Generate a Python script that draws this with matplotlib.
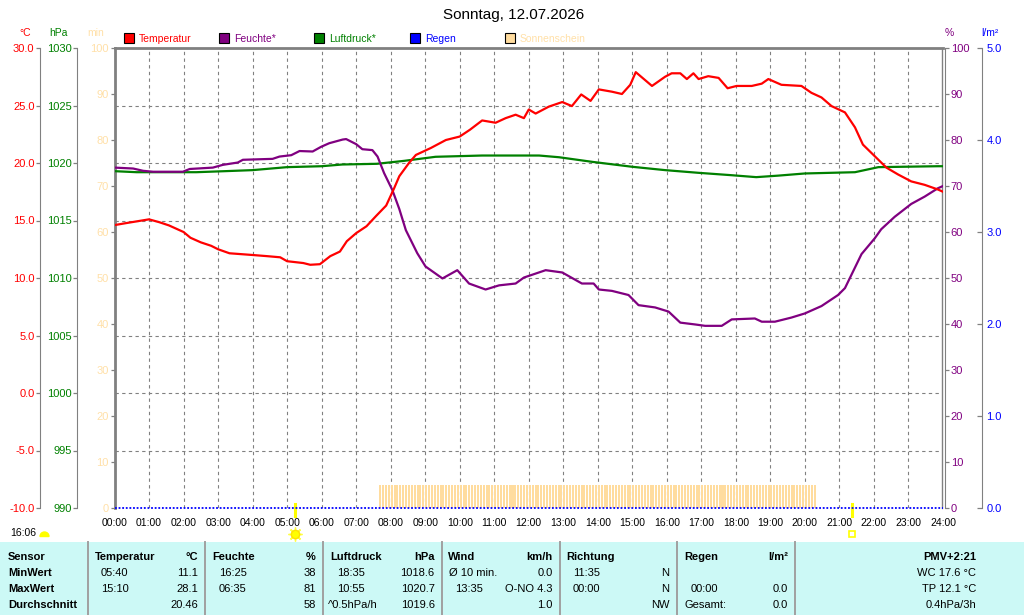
import numpy as np
import matplotlib
matplotlib.use("Agg")
import matplotlib.pyplot as plt
import matplotlib.transforms as mtransforms
from matplotlib.patches import Rectangle, Wedge
from matplotlib.ticker import FormatStrFormatter

plt.rcParams["font.family"] = ["Liberation Sans", "DejaVu Sans"]

# ---- data ----
title = "Sonntag, 12.07.2026"

temp_hours = [0.0, 0.33, 1.0, 1.3, 1.58, 2.0, 2.2, 2.5, 2.8, 3.0, 3.33, 4.0, 4.42, 4.8,
              5.0, 5.47, 5.67, 5.95, 6.25, 6.53, 6.73, 7.0, 7.3, 7.58, 7.87, 8.1, 8.25,
              8.53, 8.73, 9.16, 9.6, 10.0, 10.3, 10.65, 11.04, 11.33, 11.62, 11.86, 12.0,
              12.2, 12.58, 12.97, 13.25, 13.52, 13.79, 14.03, 14.41, 14.7, 14.94, 15.1,
              15.57, 15.95, 16.14, 16.39, 16.58, 16.77, 16.92, 17.2, 17.5, 17.76, 18.02,
              18.46, 18.75, 18.94, 19.32, 19.9, 20.19, 20.48, 20.77, 21.16, 21.45, 21.68,
              22.02, 22.36, 22.7, 23.08, 23.47, 23.85, 24.0]
temp_c = [14.6, 14.77, 15.1, 14.85, 14.57, 14.0, 13.5, 13.1, 12.8, 12.5, 12.15, 12.0, 11.9,
          11.8, 11.46, 11.3, 11.15, 11.2, 11.9, 12.3, 13.2, 13.9, 14.5, 15.4, 16.3, 17.8,
          18.85, 20.0, 20.7, 21.3, 22.0, 22.3, 22.9, 23.7, 23.5, 23.9, 24.2, 23.9, 24.65,
          24.3, 24.9, 25.3, 24.95, 25.96, 25.4, 26.4, 26.2, 26.0, 26.8, 27.9, 26.7, 27.5,
          27.8, 27.8, 27.3, 27.8, 27.3, 27.55, 27.4, 26.5, 26.7, 26.7, 26.9, 27.3, 26.8,
          26.7, 26.1, 25.7, 24.95, 24.4, 23.1, 21.6, 20.6, 19.6, 19.0, 18.4, 18.1, 17.7,
          17.5]

hum_hours = [0.0, 0.54, 0.83, 1.12, 1.98, 2.18, 2.85, 3.14, 3.57, 3.72, 4.58, 4.78, 5.12,
             5.36, 5.74, 5.98, 6.22, 6.61, 6.71, 7.0, 7.18, 7.47, 7.62, 7.81, 8.05, 8.25,
             8.44, 8.77, 9.01, 9.5, 9.93, 10.27, 10.75, 11.14, 11.62, 11.86, 12.49, 12.97,
             13.54, 13.88, 14.03, 14.41, 14.89, 15.18, 15.66, 16.05, 16.39, 16.82, 17.11,
             17.59, 17.88, 18.55, 18.75, 19.13, 19.61, 20.0, 20.48, 20.96, 21.16, 21.64,
             22.02, 22.21, 22.6, 23.08, 23.47, 23.85, 24.0]
hum_pct = [74.0, 73.8, 73.3, 73.1, 73.1, 73.7, 74.0, 74.6, 75.1, 75.7, 75.9, 76.4, 76.7,
           77.6, 77.5, 78.5, 79.3, 80.1, 80.2, 79.1, 78.0, 77.8, 76.4, 72.8, 69.1, 65.0,
           60.4, 55.4, 52.5, 49.9, 51.7, 48.8, 47.5, 48.4, 48.8, 50.1, 51.7, 51.2, 48.8,
           48.8, 47.5, 47.2, 46.3, 44.1, 43.6, 42.7, 40.3, 39.9, 39.6, 39.6, 41.0, 41.2,
           40.5, 40.5, 41.4, 42.3, 43.9, 46.3, 47.8, 55.2, 58.6, 60.6, 63.3, 66.1, 67.7,
           69.5, 70.0]

pres_hours = [0.0, 0.64, 2.37, 3.2, 4.0, 5.0, 6.0, 6.6, 7.6, 8.4, 9.3, 10.65, 12.3, 12.88,
              13.84, 15.0, 15.95, 16.9, 17.87, 18.59, 19.22, 20.0, 21.45, 22.13, 23.85, 24.0]
pres_hpa = [1019.29, 1019.2, 1019.2, 1019.29, 1019.38, 1019.64, 1019.72, 1019.87, 1019.93,
            1020.19, 1020.54, 1020.65, 1020.65, 1020.5, 1020.1, 1019.67, 1019.38, 1019.15,
            1018.94, 1018.77, 1018.9, 1019.09, 1019.2, 1019.64, 1019.72, 1019.72]

rain_hours = [0.0, 24.0]
rain_mm = [0.0, 0.0]

# sunshine: 5-minute slots with full sun between these times
sun_first_slot = "07:40"
sun_last_slot = "20:15"
sun_slot_minutes = 5

sunrise = 5.22
sunset = 21.35
day_length = "16:06"

hour_labels = [f"{h:02d}:00" for h in range(25)]
temp_ticks = [-10, -5, 0, 5, 10, 15, 20, 25, 30]
pres_ticks = [990, 995, 1000, 1005, 1010, 1015, 1020, 1025, 1030]
pct_ticks = [0, 10, 20, 30, 40, 50, 60, 70, 80, 90, 100]
rain_ticks = [0, 1, 2, 3, 4, 5]

legend_names = ["Temperatur", "Feuchte*", "Luftdruck*", "Regen", "Sonnenschein"]

table_header = ["Sensor", "Temperatur", "°C", "Feuchte", "%", "Luftdruck", "hPa", "Wind",
                "km/h", "Richtung", "", "Regen", "l/m²", "PMV+2:21"]
table_rows = [
    ["MinWert", "05:40", "11.1", "16:25", "38", "18:35", "1018.6", "Ø 10 min.", "0.0",
     "11:35", "N", "", "", "WC 17.6 °C"],
    ["MaxWert", "15:10", "28.1", "06:35", "81", "10:55", "1020.7", "13:35", "O-NO 4.3",
     "00:00", "N", "00:00", "0.0", "TP 12.1 °C"],
    ["Durchschnitt", "", "20.46", "", "58", "^0.5hPa/h", "1019.6", "", "1.0",
     "", "NW", "Gesamt:", "0.0", "0.4hPa/3h"],
]

# ---- styling / layout ----
RED = "#ff0000"
PURPLE = "#800080"
GREEN = "#008000"
BLUE = "#0000ff"
SUN = "#ffdc9e"
SUNTXT = "#ffe0a8"
GRAY = "#808080"
TABLE_BG = "#ccf9f6"

W, H = 1024, 615
L, R, T, B = 114.5, 943.0, 48.0, 508.0


def fx(px):
    return (px - L) / (R - L)


fig = plt.figure(figsize=(W / 100, H / 100), dpi=100)

ov = fig.add_axes([0, 0, 1, 1])
ov.set_xlim(0, W)
ov.set_ylim(H, 0)
ov.axis("off")

ax = fig.add_axes([L / W, 1 - B / H, (R - L) / W, (B - T) / H])
ax_m = ax.twinx()
ax_p = ax.twinx()
ax_h = ax.twinx()
ax_r = ax.twinx()
ax_t = ax.twinx()

for a in (ax, ax_m, ax_p, ax_h, ax_r, ax_t):
    for s in a.spines.values():
        s.set_visible(False)

ax.set_xlim(0, 24)
ax.set_xticks(range(25))
ax.set_xticklabels(hour_labels)
ax.tick_params(axis="x", length=0, pad=7, labelsize=7.5)

# temperature axis (left, at x=40)
ax.set_ylim(-10, 30)
ax.set_yticks(temp_ticks)
ax.yaxis.set_major_formatter(FormatStrFormatter("%.1f"))
ax.spines["left"].set_visible(True)
ax.spines["left"].set_position(("axes", fx(40)))
ax.spines["left"].set_color(GRAY)
ax.tick_params(axis="y", length=3, width=0.9, color=GRAY, labelcolor=RED, labelsize=8, pad=1)
ax.grid(True, color=GRAY, linestyle=(0, (3, 3)), linewidth=0.8)

# temperature line on its own overlay with the same scale
ax_t.set_ylim(-10, 30)
ax_t.set_yticks([])

# pressure axis (left, at x=77)
ax_p.set_ylim(990, 1030)
ax_p.yaxis.tick_left()
ax_p.set_yticks(pres_ticks)
ax_p.spines["left"].set_visible(True)
ax_p.spines["left"].set_position(("axes", fx(77)))
ax_p.spines["left"].set_color(GRAY)
ax_p.tick_params(axis="y", length=3, width=0.9, color=GRAY, labelcolor=GREEN, labelsize=8, pad=1)

# sunshine minutes axis (left, at frame)
ax_m.set_ylim(0, 100)
ax_m.yaxis.tick_left()
ax_m.set_yticks(pct_ticks)
ax_m.tick_params(axis="y", length=3, width=0.9, color=GRAY, labelcolor=SUNTXT, labelsize=8, pad=1)

# humidity axis (right)
ax_h.set_ylim(0, 100)
ax_h.yaxis.tick_right()
ax_h.set_yticks(pct_ticks)
ax_h.spines["right"].set_visible(True)
ax_h.spines["right"].set_position(("axes", fx(944.5)))
ax_h.spines["right"].set_color(GRAY)
ax_h.tick_params(axis="y", length=3, width=0.9, color=GRAY, labelcolor=PURPLE, labelsize=8, pad=1.5)

# rain axis (right, at x=981)
ax_r.set_ylim(0, 5)
ax_r.yaxis.tick_right()
ax_r.set_yticks(rain_ticks)
ax_r.yaxis.set_major_formatter(FormatStrFormatter("%.1f"))
ax_r.spines["right"].set_visible(True)
ax_r.spines["right"].set_position(("axes", fx(981.5)))
ax_r.spines["right"].set_color(GRAY)
ax_r.tick_params(axis="y", direction="in", length=3.5, width=0.9, color=GRAY,
                 labelcolor=BLUE, labelsize=8, pad=3.5)

# frame
ax.plot([0, 0], [0, 1], transform=ax.transAxes, color=GRAY, lw=2.0, clip_on=False, zorder=5)
ax.plot([0, 1], [1, 1], transform=ax.transAxes, color=GRAY, lw=2.0, clip_on=False, zorder=5)
ax.plot([fx(941.5)] * 2, [0, 1], transform=ax.transAxes, color=GRAY, lw=1.0, clip_on=False)

# sunshine bars
h0, m0 = map(int, sun_first_slot.split(":"))
h1, m1 = map(int, sun_last_slot.split(":"))
sun_slots = np.arange(h0 * 60 + m0, h1 * 60 + m1 + 1, sun_slot_minutes) / 60.0
sun_values = np.full(len(sun_slots), sun_slot_minutes)
ax_m.bar(sun_slots, sun_values, width=sun_slot_minutes / 60 * 0.7, align="edge",
         color=SUN, linewidth=0)

# series
ax_p.plot(pres_hours, pres_hpa, color=GREEN, lw=1.6)
ax_h.plot(hum_hours, hum_pct, color=PURPLE, lw=1.6)
ax_r.plot(rain_hours, rain_mm, color=BLUE, lw=1.3, linestyle=(0, (1, 1)), clip_on=False)
ax_t.plot(temp_hours, temp_c, color=RED, lw=1.6)

# sunrise / sunset
blend = mtransforms.blended_transform_factory(ax.transData, ax.transAxes)
for t in (sunrise, sunset):
    ax.plot([t, t], [-8 / 460, 4 / 460], transform=blend, color="#ffff00", lw=2.2,
            clip_on=False, zorder=6)
ax.plot([sunrise], [-26 / 460], transform=blend, marker=(8, 2, 0), ms=10, mew=1,
        color="#ffff40", clip_on=False)
ax.plot([sunrise], [-26 / 460], transform=blend, marker="o", ms=6, color="#ffff00",
        mec="#ffe000", clip_on=False)
ax.plot([sunset], [-26 / 460], transform=blend, marker="s", ms=4.5, mfc="none",
        mec="#ffff00", mew=1.2, clip_on=False)

# title, units, legend
ov.text(514, 15, title, ha="center", va="center", fontsize=11)
ov.text(25, 33, "°C", color=RED, ha="center", va="center", fontsize=7.5)
ov.text(58, 33, "hPa", color=GREEN, ha="center", va="center", fontsize=7.5)
ov.text(96, 33, "min", color=SUNTXT, ha="center", va="center", fontsize=7.5)
ov.text(949, 33, "%", color=PURPLE, ha="center", va="center", fontsize=7.5)
ov.text(990, 33, "l/m²", color=BLUE, ha="center", va="center", fontsize=7.5)

legend_colors = [RED, PURPLE, GREEN, BLUE, SUN]
legend_text_colors = [RED, PURPLE, GREEN, BLUE, SUNTXT]
legend_x = [124, 219, 314, 410, 505]
for name, c, tc, x in zip(legend_names, legend_colors, legend_text_colors, legend_x):
    ov.add_patch(Rectangle((x, 33), 10, 10, facecolor=c, edgecolor="black", lw=0.8))
    ov.text(x + 15, 38.5, name, color=tc, ha="left", va="center", fontsize=7.5)

# day length
ov.text(10, 533, day_length, ha="left", va="center", fontsize=7.5)
ov.add_patch(Wedge((44.5, 536.5), 4.5, 180, 360, color="#ffff00"))

# table
ov.add_patch(Rectangle((0, 542), W, H - 542, facecolor=TABLE_BG, edgecolor="none"))
for x in [88, 205, 323, 441.5, 559.5, 676.5, 795]:
    ov.plot([x, x], [542, H], color="#a0a0a0", lw=1.4)

header_x = [8, 95, 198, 212.7, 316, 330.7, 434.7, 448.3, 552.7, 566.7, 0, 684.3, 788.3, 976.7]
col_x = [8, 101, 198, 218.7, 316, 336.7, 434.7, 449, 552.7, 572.7, 669.3, 690.5, 788.3, 976]
col_ha = ["left", "left", "right", "left", "right", "left", "right", "left", "right",
          "left", "right", "left", "right", "right"]
cell_x_override = {(1, 7): 455, (2, 5): 327.7, (2, 11): 684.3}
row_y = [572.7, 588.7, 605]

for text, x, ha in zip(table_header, header_x, col_ha):
    if text:
        ov.text(x, 557, text, ha=ha, va="center", fontsize=8, fontweight="bold")
for r, (row, y) in enumerate(zip(table_rows, row_y)):
    for c, (text, x, ha) in enumerate(zip(row, col_x, col_ha)):
        if not text:
            continue
        x = cell_x_override.get((r, c), x)
        if c == 0:
            ov.text(x, y, text, ha=ha, va="center", fontsize=8, fontweight="bold")
        else:
            ov.text(x, y, text, ha=ha, va="center", fontsize=8)

fig.savefig("out.png", dpi=100)
